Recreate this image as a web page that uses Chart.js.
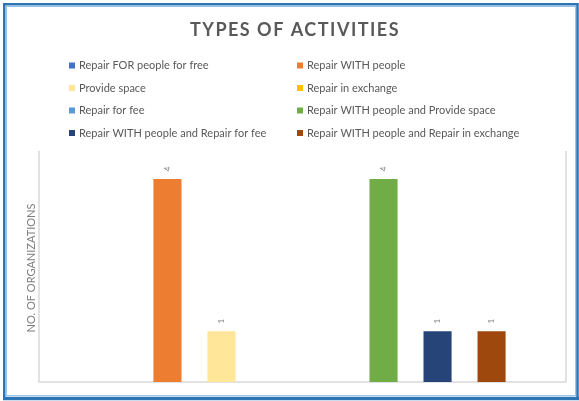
<!DOCTYPE html>
<html>
<head>
<meta charset="utf-8">
<script src="https://cdn.jsdelivr.net/npm/chart.js@4.4.1/dist/chart.umd.min.js"></script>
<style>
  html, body { margin: 0; padding: 0; background: #fff; }
  #wrap { position: relative; width: 579px; height: 401px; }
  canvas { display: block; }
</style>
</head>
<body>
<div id="wrap"><canvas id="c" width="579" height="401"></canvas></div>
<script>
const chartTitle = 'TYPES OF ACTIVITIES';
const yAxisTitle = 'NO. OF ORGANIZATIONS';
const categories = ['Types of activities'];
const seriesNames = [
  'Repair FOR people for free',
  'Repair WITH people',
  'Provide space',
  'Repair in exchange',
  'Repair for fee',
  'Repair WITH people and Provide space',
  'Repair WITH people and Repair for fee',
  'Repair WITH people and Repair in exchange'
];
const seriesValues = [0, 4, 1, 0, 0, 4, 1, 1];
const seriesColors = ['#4472C4', '#ED7D31', '#FFE699', '#FFC000', '#5B9BD5', '#70AD47', '#264478', '#9E480E'];

const datasets = seriesNames.map((name, i) => ({
  label: name,
  data: [seriesValues[i]],
  backgroundColor: seriesColors[i],
  borderWidth: 0,
  categoryPercentage: 0.82,
  barPercentage: 0.52
}));

const decor = {
  id: 'decor',
  beforeDatasetsDraw(chart) {
    const ctx = chart.ctx;
    const a = chart.chartArea;
    ctx.save();
    ctx.strokeStyle = '#d9d9d9';
    ctx.lineWidth = 1.5;
    ctx.beginPath();
    ctx.moveTo(a.left, a.top);
    ctx.lineTo(a.left, a.bottom);
    ctx.lineTo(a.right, a.bottom);
    ctx.lineTo(a.right, a.top);
    ctx.stroke();
    ctx.restore();
  },
  afterDraw(chart) {
    const ctx = chart.ctx;
    ctx.save();
    // title
    ctx.fillStyle = '#595959';
    ctx.font = 'bold 18px Lato';
    ctx.textAlign = 'center';
    ctx.textBaseline = 'alphabetic';
    try { ctx.letterSpacing = '1.5px'; } catch (e) {}
    ctx.fillText(chartTitle, 295, 36);
    try { ctx.letterSpacing = '0px'; } catch (e) {}

    // legend
    const colX = [69, 297];
    const rowY = [65.5, 88, 110.5, 133];
    ctx.font = '11px Lato';
    ctx.textAlign = 'left';
    ctx.textBaseline = 'middle';
    chart.data.datasets.forEach((ds, i) => {
      const x = colX[i % 2];
      const y = rowY[Math.floor(i / 2)];
      ctx.fillStyle = ds.backgroundColor;
      ctx.fillRect(x, y - 3, 6, 6);
      ctx.fillStyle = '#595959';
      ctx.fillText(ds.label, x + 10, y);
    });

    // y axis title
    ctx.save();
    ctx.translate(31, 268);
    ctx.rotate(-Math.PI / 2);
    ctx.font = '11px Lato';
    ctx.fillStyle = '#7f7f7f';
    ctx.textAlign = 'center';
    ctx.textBaseline = 'middle';
    ctx.fillText(yAxisTitle, 0, 0);
    ctx.restore();

    // data labels
    chart.data.datasets.forEach((ds, i) => {
      const meta = chart.getDatasetMeta(i);
      meta.data.forEach((bar, j) => {
        const v = ds.data[j];
        if (!v) return;
        ctx.save();
        ctx.translate(bar.x, bar.y - 10);
        ctx.rotate(-Math.PI / 2);
        ctx.font = '8px Lato';
        ctx.fillStyle = '#7f7f7f';
        ctx.textAlign = 'center';
        ctx.textBaseline = 'middle';
        ctx.fillText(String(v), 0, 0);
        ctx.restore();
      });
    });

    // outer frame
    ctx.strokeStyle = '#9dc3e6';
    ctx.lineWidth = 1;
    ctx.strokeRect(6.5, 6.5, 569, 389);
    ctx.strokeStyle = '#2e75b6';
    ctx.lineWidth = 2.5;
    ctx.beginPath();
    ctx.moveTo(4.25, 399);
    ctx.lineTo(4.25, 4.25);
    ctx.lineTo(577.5, 4.25);
    ctx.lineTo(577.5, 399);
    ctx.stroke();
    ctx.lineWidth = 3.5;
    ctx.beginPath();
    ctx.moveTo(3, 398.5);
    ctx.lineTo(579, 398.5);
    ctx.stroke();
    ctx.restore();
  }
};

new Chart(document.getElementById('c'), {
  type: 'bar',
  data: { labels: categories, datasets },
  options: {
    responsive: false,
    animation: false,
    layout: { padding: { left: 39, right: 13, top: 151, bottom: 19 } },
    plugins: { legend: { display: false }, title: { display: false }, tooltip: { enabled: false } },
    scales: {
      x: { display: false },
      y: { display: false, min: 0, max: 4.55 }
    }
  },
  plugins: [decor]
});
</script>
</body>
</html>
